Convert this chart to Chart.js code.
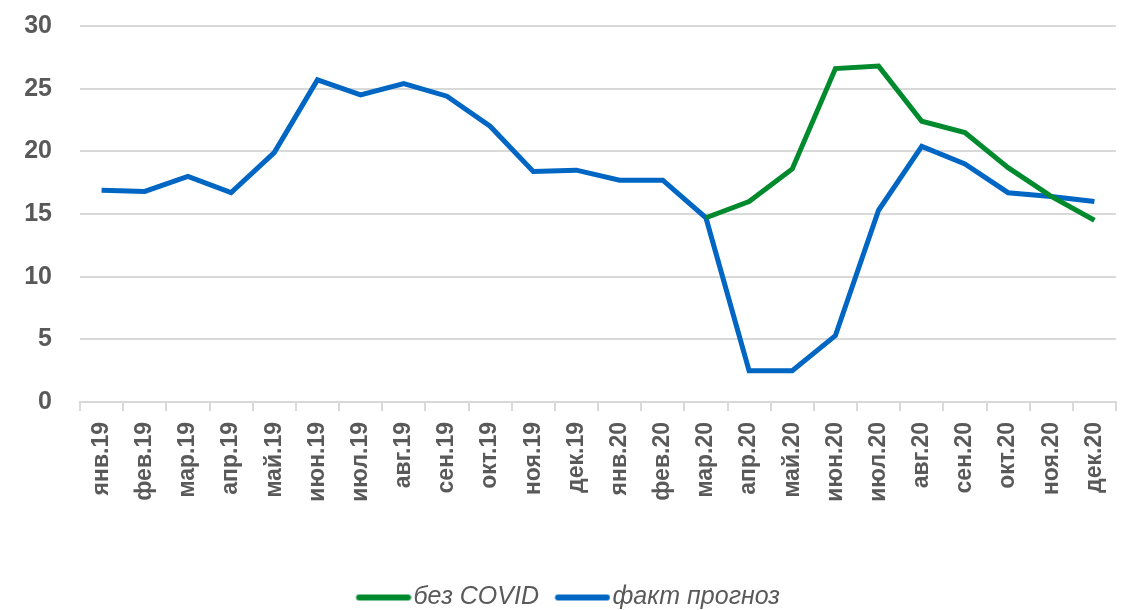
<!DOCTYPE html>
<html>
<head>
<meta charset="utf-8">
<script src="https://cdn.jsdelivr.net/npm/chart.js@4/dist/chart.umd.min.js"></script>
<style>
  html, body { margin: 0; padding: 0; background: #fff; }
  #wrap { width: 1123px; height: 610px; }
</style>
</head>
<body>
<div id="wrap"><canvas id="myChart"></canvas></div>
<script>
const months = [
  'янв.19', 'фев.19', 'мар.19', 'апр.19', 'май.19', 'июн.19', 'июл.19', 'авг.19',
  'сен.19', 'окт.19', 'ноя.19', 'дек.19', 'янв.20', 'фев.20', 'мар.20', 'апр.20',
  'май.20', 'июн.20', 'июл.20', 'авг.20', 'сен.20', 'окт.20', 'ноя.20', 'дек.20'
];
// без COVID starts at мар.20
const noCovid = [
  null, null, null, null, null, null, null, null, null, null, null, null,
  null, null, 14.7, 16.0, 18.6, 26.6, 26.8, 22.4, 21.5, 18.7, 16.4, 14.5
];
const factForecast = [
  16.9, 16.8, 18.0, 16.7, 19.9, 25.7, 24.5, 25.4, 24.4, 22.0, 18.4, 18.5,
  17.7, 17.7, 14.7, 2.5, 2.5, 5.3, 15.3, 20.4, 19.0, 16.7, 16.4, 16.0
];
const yTicks = [0, 5, 10, 15, 20, 25, 30];

const GREEN = '#008a2e';
const BLUE = '#0066c4';
const GREY = '#595959';
const GRID = '#d9d9d9';
const FONT = '"Liberation Sans", Arial, sans-serif';

// legend marker: a rounded line sitting right next to the text
function legendLine(color) {
  const c = document.createElement('canvas');
  c.width = 66;
  c.height = 10;
  const g = c.getContext('2d');
  g.strokeStyle = color;
  g.lineWidth = 6;
  g.lineCap = 'round';
  g.beginPath();
  g.moveTo(13.5, 5);
  g.lineTo(62.5, 5);
  g.stroke();
  return c;
}

// push the legend down towards the bottom edge (and a bit to the right)
const legendShift = {
  id: 'legendShift',
  afterLayout(chart) {
    chart.legend.top += 10;
    chart.legend.bottom += 10;
    chart.legend.left += 10;
    chart.legend.right += 10;
  }
};

const ctx = document.getElementById('myChart');
new Chart(ctx, {
  type: 'line',
  plugins: [legendShift],
  data: {
    labels: months,
    datasets: [
      {
        label: 'без COVID',
        data: noCovid,
        borderColor: GREEN,
        backgroundColor: GREEN,
        borderWidth: 5,
        pointRadius: 0,
        pointStyle: legendLine(GREEN),
        tension: 0
      },
      {
        label: 'факт прогноз',
        data: factForecast,
        borderColor: BLUE,
        backgroundColor: BLUE,
        borderWidth: 5,
        pointRadius: 0,
        pointStyle: legendLine(BLUE),
        tension: 0
      }
    ]
  },
  options: {
    responsive: true,
    maintainAspectRatio: false,
    animation: false,
    layout: { padding: { top: 26, right: 7, left: 0, bottom: 0 } },
    plugins: {
      tooltip: { enabled: false },
      legend: {
        position: 'bottom',
        align: 'center',
        labels: {
          usePointStyle: true,
          pointStyleWidth: 45,
          padding: 16,
          color: GREY,
          font: { family: FONT, size: 25, style: 'italic' }
        }
      }
    },
    scales: {
      x: {
        offset: true,
        grid: {
          offset: true,
          drawOnChartArea: false,
          drawTicks: true,
          tickLength: 9,
          color: GRID,
          lineWidth: 2
        },
        border: { display: true, color: GRID, width: 2 },
        ticks: {
          color: GREY,
          minRotation: 90,
          maxRotation: 90,
          autoSkip: false,
          padding: 11,
          font: { family: FONT, size: 23, weight: 'bold' }
        },
        afterFit(scale) {
          scale.height = 157;
          scale.paddingLeft = 0;
          scale.paddingRight = 0;
        }
      },
      y: {
        min: 0,
        max: 30,
        afterBuildTicks(scale) { scale.ticks = yTicks.map(v => ({ value: v })); },
        grid: { color: GRID, lineWidth: 2, drawTicks: false },
        border: { display: false },
        ticks: {
          color: GREY,
          padding: 28,
          font: { family: FONT, size: 25, weight: 'bold' }
        },
        afterFit(scale) {
          scale.width = 80;
          scale.paddingTop = 0;
          scale.paddingBottom = 0;
        }
      }
    }
  }
});
</script>
</body>
</html>
